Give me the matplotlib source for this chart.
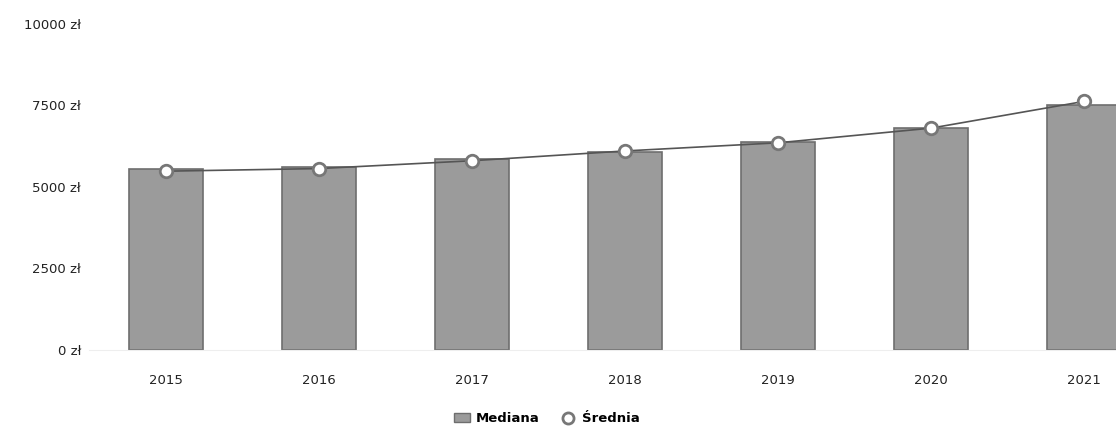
import matplotlib
matplotlib.use("Agg")
import matplotlib.pyplot as plt
from matplotlib.lines import Line2D
from matplotlib.patches import Patch

years = ["2015", "2016", "2017", "2018", "2019", "2020", "2021"]
mediana = [5540, 5620, 5860, 6080, 6360, 6790, 7500]
srednia = [5480, 5560, 5800, 6100, 6350, 6800, 7620]
y_ticks = [0, 2500, 5000, 7500, 10000]
y_labels = ["0 zł", "2500 zł", "5000 zł", "7500 zł", "10000 zł"]

plt.rcParams["font.family"] = ["DejaVu Sans"]
fig = plt.figure(figsize=(11.16, 4.32), dpi=100)
# plot area runs past the right edge, like the cropped original
ax = fig.add_axes([0.080, 0.19, 0.96, 0.755])

x = range(len(years))
ax.bar(x, mediana, width=0.48, color="#9b9b9b", edgecolor="#6e6e6e",
       linewidth=1.2, zorder=2)
ax.plot(x, srednia, color="#555555", linewidth=1.2, marker="o",
        markersize=9, markerfacecolor="white", markeredgecolor="#777777",
        markeredgewidth=2, zorder=3)

ax.set_xlim(-0.5, len(years) - 0.5)
ax.set_ylim(0, 10000)
ax.set_xticks(list(x))
ax.set_xticklabels(years, fontsize=9.5, color="#222222")
ax.set_yticks(y_ticks)
ax.set_yticklabels(y_labels, fontsize=9.5, color="#222222")
ax.tick_params(axis="both", length=0)
ax.tick_params(axis="x", pad=17)
ax.tick_params(axis="y", pad=6)
for side in ["top", "right", "left"]:
    ax.spines[side].set_visible(False)
ax.spines["bottom"].set_color("#eeeeee")

handles = [
    Patch(facecolor="#9b9b9b", edgecolor="#6e6e6e"),
    Line2D([0], [0], color="#777777", linewidth=0, marker="o", markersize=8,
           markerfacecolor="white", markeredgecolor="#777777", markeredgewidth=2),
]
fig.legend(handles, ["Mediana", "Średnia"], loc="lower center",
           bbox_to_anchor=(0.49, -0.012), ncol=2, frameon=False,
           prop={"size": 9.5, "weight": "bold"}, handlelength=1.2,
           columnspacing=1.5, handletextpad=0.5)

fig.savefig("out.png", dpi=100)
